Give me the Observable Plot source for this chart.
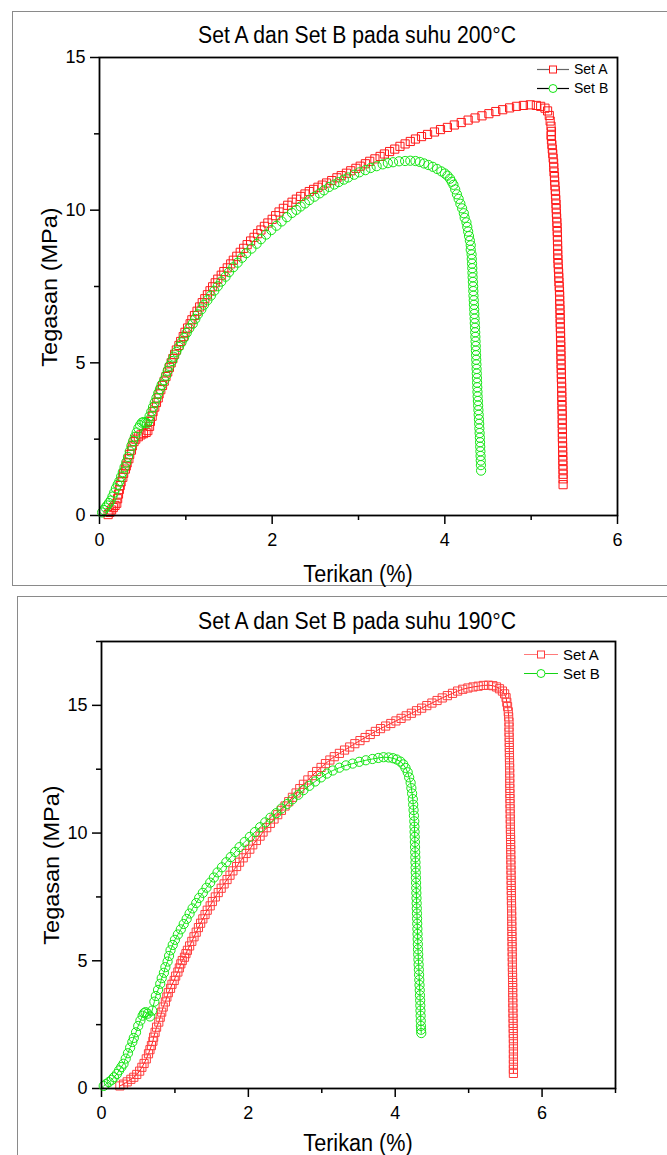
<!DOCTYPE html>
<html>
<head>
<meta charset="utf-8">
<script src="https://cdn.jsdelivr.net/npm/d3@7"></script>
<script src="https://cdn.jsdelivr.net/npm/@observablehq/plot@0.6"></script>
<style>
  html, body { margin: 0; padding: 0; background: #fff; }
  body { width: 667px; height: 1155px; position: relative; overflow: hidden; font-family: "Liberation Sans", Arial, sans-serif; }
  .panel { position: absolute; border: 1px solid #8a8a8a; box-sizing: border-box; pointer-events: none; }
  .chart { position: absolute; left: 0; }
  .txt { position: absolute; line-height: 1; white-space: nowrap; color: #000; }
  .legend { position: absolute; font-size: 14px; }
  .legend .row { display: flex; align-items: center; height: 19px; }
</style>
</head>
<body>
<div class="panel" style="left:12px; top:11px; width:700px; height:575px;"></div>
<div class="panel" style="left:17px; top:596px; width:700px; height:600px;"></div>
<div id="c1" class="chart" style="top:0px;"></div>
<div id="c2" class="chart" style="top:590px;"></div>
<script>
// ---------- DATA ----------
const titles = ["Set A dan Set B pada suhu 200°C", "Set A dan Set B pada suhu 190°C"];
const xLabel = "Terikan (%)";
const yLabel = "Tegasan (MPa)";
const seriesNames = ["Set A", "Set B"];

// 200°C panel
const xDomain200 = [0, 6];
const yDomain200 = [0, 15];
const xTicks200 = [0, 2, 4, 6];
const xMinor200 = [1, 3, 5];
const yTicks200 = [0, 5, 10, 15];
const yMinor200 = [2.5, 7.5, 12.5];

// [strain %, stress MPa]
const set200A = [
[0.10,0.03],[0.12,0.10],[0.14,0.18],[0.16,0.26],[0.18,0.33],[0.20,0.40],[0.21,0.55],[0.22,0.70],[0.23,0.85],[0.24,0.98],
[0.25,1.10],[0.27,1.25],[0.28,1.38],[0.30,1.52],[0.31,1.62],[0.32,1.72],[0.34,1.86],[0.35,2.00],[0.37,2.14],[0.38,2.28],
[0.40,2.42],[0.42,2.50],[0.45,2.58],[0.48,2.64],[0.51,2.68],[0.54,2.72],[0.56,2.78],[0.58,2.92],[0.59,3.08],[0.61,3.25],
[0.62,3.40],[0.64,3.55],[0.66,3.70],[0.68,3.85],[0.69,3.98],[0.71,4.12],[0.73,4.26],[0.75,4.40],[0.77,4.55],[0.79,4.70],
[0.81,4.85],[0.83,5.00],[0.85,5.14],[0.87,5.28],[0.89,5.42],[0.92,5.57],[0.94,5.70],[0.97,5.86],[0.99,6.00],[1.02,6.14],
[1.05,6.28],[1.07,6.41],[1.10,6.55],[1.13,6.69],[1.16,6.83],[1.19,6.97],[1.22,7.10],[1.25,7.23],[1.28,7.36],[1.31,7.49],
[1.34,7.62],[1.37,7.74],[1.41,7.87],[1.44,7.99],[1.48,8.11],[1.52,8.24],[1.55,8.36],[1.59,8.49],[1.63,8.62],[1.67,8.75],
[1.71,8.87],[1.75,8.99],[1.79,9.11],[1.83,9.23],[1.87,9.35],[1.91,9.47],[1.95,9.58],[2.00,9.70],[2.04,9.82],[2.08,9.94],
[2.13,10.06],[2.18,10.16],[2.23,10.26],[2.28,10.36],[2.33,10.45],[2.38,10.53],[2.43,10.61],[2.48,10.68],[2.53,10.75],[2.58,10.82],
[2.63,10.89],[2.69,10.97],[2.75,11.06],[2.80,11.13],[2.86,11.21],[2.91,11.29],[2.97,11.37],[3.02,11.44],[3.08,11.52],[3.13,11.60],
[3.19,11.68],[3.25,11.76],[3.30,11.84],[3.36,11.92],[3.42,12.00],[3.48,12.09],[3.54,12.17],[3.60,12.25],[3.66,12.33],[3.73,12.41],
[3.80,12.48],[3.88,12.56],[3.95,12.64],[4.03,12.71],[4.11,12.79],[4.19,12.87],[4.27,12.95],[4.35,13.02],[4.43,13.09],[4.51,13.16],
[4.59,13.23],[4.67,13.29],[4.75,13.35],[4.83,13.40],[4.91,13.43],[4.99,13.45],[5.06,13.43],[5.11,13.40],[5.16,13.34],[5.19,13.25],
[5.21,13.10],[5.22,12.92],[5.23,12.75],[5.235,12.58],[5.23,12.45],[5.235,12.30],[5.24,12.15],[5.245,12.00],[5.25,11.85],[5.255,11.70],
[5.26,11.55],[5.262,11.40],[5.265,11.25],[5.27,11.10],[5.272,10.95],[5.275,10.80],[5.28,10.65],[5.282,10.50],[5.285,10.35],[5.288,10.20],
[5.29,10.05],[5.292,9.90],[5.295,9.75],[5.298,9.60],[5.30,9.45],[5.302,9.30],[5.304,9.15],[5.305,9.00],[5.306,8.85],[5.307,8.70],
[5.308,8.55],[5.31,8.40],[5.312,8.25],[5.315,8.10],[5.318,7.95],[5.32,7.80],[5.322,7.65],[5.325,7.50],[5.328,7.35],[5.33,7.20],
[5.33,7.05],[5.332,6.90],[5.334,6.75],[5.335,6.60],[5.336,6.45],[5.337,6.30],[5.338,6.15],[5.34,6.00],[5.34,5.85],[5.342,5.70],
[5.343,5.55],[5.344,5.40],[5.345,5.25],[5.346,5.10],[5.347,4.95],[5.348,4.80],[5.35,4.65],[5.35,4.50],[5.352,4.35],[5.353,4.20],
[5.354,4.05],[5.355,3.90],[5.356,3.75],[5.357,3.60],[5.358,3.45],[5.36,3.30],[5.36,3.15],[5.36,3.00],[5.361,2.85],[5.362,2.70],
[5.362,2.55],[5.363,2.40],[5.364,2.25],[5.365,2.10],[5.366,1.95],[5.367,1.80],[5.368,1.65],[5.369,1.50],[5.37,1.35],[5.37,1.20],
[5.37,1.01]
];

const set200B = [
[0.03,0.10],[0.05,0.18],[0.07,0.26],[0.09,0.33],[0.11,0.41],[0.13,0.49],[0.15,0.62],[0.17,0.75],[0.19,0.89],[0.21,1.01],
[0.23,1.12],[0.25,1.27],[0.27,1.42],[0.29,1.58],[0.31,1.74],[0.33,1.92],[0.35,2.10],[0.37,2.28],[0.39,2.44],[0.41,2.58],
[0.43,2.72],[0.45,2.86],[0.47,2.96],[0.49,3.04],[0.51,3.06],[0.53,3.04],[0.55,3.02],[0.57,3.12],[0.58,3.25],[0.60,3.40],
[0.62,3.55],[0.64,3.70],[0.66,3.85],[0.68,4.00],[0.70,4.14],[0.72,4.28],[0.75,4.43],[0.77,4.58],[0.79,4.74],[0.81,4.90],
[0.84,5.06],[0.86,5.20],[0.89,5.36],[0.92,5.52],[0.95,5.67],[0.98,5.82],[1.01,5.98],[1.04,6.13],[1.08,6.28],[1.11,6.44],
[1.14,6.59],[1.18,6.75],[1.21,6.90],[1.25,7.05],[1.29,7.20],[1.33,7.36],[1.37,7.51],[1.41,7.66],[1.46,7.82],[1.50,7.97],
[1.55,8.13],[1.60,8.28],[1.65,8.44],[1.70,8.59],[1.76,8.74],[1.82,8.90],[1.87,9.05],[1.93,9.20],[1.99,9.35],[2.05,9.49],
[2.11,9.63],[2.17,9.77],[2.23,9.91],[2.28,10.01],[2.33,10.12],[2.38,10.22],[2.43,10.33],[2.49,10.44],[2.55,10.55],[2.60,10.65],
[2.66,10.76],[2.72,10.84],[2.77,10.92],[2.83,11.00],[2.88,11.07],[2.95,11.16],[3.01,11.24],[3.08,11.31],[3.14,11.38],[3.21,11.44],
[3.28,11.50],[3.34,11.54],[3.40,11.57],[3.47,11.60],[3.54,11.61],[3.60,11.62],[3.66,11.61],[3.71,11.58],[3.76,11.53],[3.81,11.48],
[3.86,11.42],[3.91,11.35],[3.96,11.27],[4.00,11.20],[4.03,11.13],[4.06,11.03],[4.08,10.93],[4.10,10.83],[4.12,10.68],[4.14,10.52],
[4.16,10.37],[4.18,10.21],[4.20,10.06],[4.22,9.90],[4.23,9.75],[4.25,9.60],[4.26,9.45],[4.27,9.30],[4.28,9.15],[4.29,9.00],
[4.30,8.85],[4.30,8.70],[4.31,8.55],[4.312,8.40],[4.315,8.25],[4.318,8.10],[4.32,7.95],[4.322,7.80],[4.325,7.65],[4.328,7.50],
[4.33,7.35],[4.332,7.20],[4.335,7.05],[4.337,6.90],[4.34,6.75],[4.342,6.60],[4.345,6.45],[4.347,6.30],[4.35,6.15],[4.352,6.00],
[4.354,5.85],[4.356,5.70],[4.358,5.55],[4.36,5.40],[4.362,5.25],[4.364,5.10],[4.366,4.95],[4.368,4.80],[4.37,4.65],[4.372,4.50],
[4.374,4.35],[4.376,4.20],[4.378,4.05],[4.38,3.90],[4.383,3.75],[4.386,3.60],[4.389,3.45],[4.392,3.30],[4.395,3.15],[4.398,3.00],
[4.40,2.85],[4.403,2.70],[4.406,2.55],[4.408,2.40],[4.41,2.25],[4.412,2.10],[4.414,1.95],[4.416,1.80],[4.418,1.65],[4.42,1.47]
];

// 190°C panel
const xDomain190 = [0, 7];
const yDomain190 = [0, 17.5];
const xTicks190 = [0, 2, 4, 6];
const xMinor190 = [1, 3, 5, 7];
const yTicks190 = [0, 5, 10, 15];
const yMinor190 = [2.5, 7.5, 12.5, 17.5];

const set190A = [
[0.25,0.10],[0.30,0.17],[0.35,0.26],[0.40,0.36],[0.44,0.44],[0.48,0.55],[0.52,0.68],[0.55,0.83],[0.58,0.98],[0.61,1.16],
[0.64,1.36],[0.66,1.52],[0.68,1.68],[0.70,1.85],[0.71,2.01],[0.73,2.20],[0.75,2.40],[0.78,2.60],[0.80,2.79],[0.82,2.99],
[0.84,3.19],[0.87,3.39],[0.89,3.58],[0.91,3.75],[0.94,3.92],[0.96,4.08],[0.99,4.23],[1.01,4.40],[1.04,4.56],[1.06,4.72],
[1.08,4.88],[1.10,5.01],[1.13,5.14],[1.15,5.28],[1.17,5.41],[1.20,5.58],[1.23,5.76],[1.26,5.94],[1.29,6.12],[1.32,6.30],
[1.35,6.47],[1.38,6.64],[1.41,6.81],[1.44,6.98],[1.48,7.15],[1.51,7.32],[1.55,7.50],[1.59,7.67],[1.63,7.84],[1.67,8.01],
[1.71,8.18],[1.75,8.35],[1.79,8.52],[1.84,8.69],[1.88,8.86],[1.93,9.03],[1.97,9.20],[2.02,9.37],[2.06,9.54],[2.11,9.71],
[2.16,9.88],[2.20,10.04],[2.25,10.21],[2.30,10.38],[2.35,10.55],[2.40,10.72],[2.45,10.89],[2.50,11.06],[2.55,11.23],[2.60,11.40],
[2.65,11.57],[2.70,11.74],[2.75,11.91],[2.81,12.08],[2.87,12.25],[2.93,12.41],[2.99,12.57],[3.05,12.72],[3.11,12.86],[3.17,12.99],
[3.24,13.12],[3.31,13.25],[3.38,13.37],[3.45,13.50],[3.52,13.62],[3.59,13.74],[3.66,13.86],[3.73,13.98],[3.80,14.09],[3.87,14.19],
[3.94,14.29],[4.01,14.39],[4.08,14.49],[4.15,14.59],[4.22,14.69],[4.29,14.79],[4.36,14.89],[4.43,14.99],[4.50,15.09],[4.57,15.19],
[4.64,15.29],[4.71,15.38],[4.78,15.47],[4.85,15.56],[4.92,15.63],[4.99,15.68],[5.06,15.72],[5.13,15.75],[5.20,15.78],[5.27,15.79],
[5.33,15.77],[5.38,15.72],[5.42,15.65],[5.46,15.56],[5.49,15.45],[5.51,15.30],[5.52,15.12],[5.53,14.95],[5.54,14.75],[5.545,14.55],
[5.55,14.35],[5.55,14.15],[5.55,13.95],[5.552,13.75],[5.553,13.55],[5.554,13.35],[5.555,13.15],[5.556,12.95],[5.557,12.75],[5.558,12.55],
[5.559,12.35],[5.56,12.15],[5.56,11.95],[5.561,11.75],[5.562,11.55],[5.563,11.35],[5.564,11.15],[5.565,10.95],[5.566,10.75],[5.567,10.55],
[5.568,10.35],[5.569,10.15],[5.57,9.95],[5.571,9.75],[5.572,9.55],[5.573,9.35],[5.574,9.15],[5.575,8.95],[5.576,8.75],[5.577,8.55],
[5.578,8.35],[5.579,8.15],[5.58,7.95],[5.581,7.75],[5.582,7.55],[5.583,7.35],[5.584,7.15],[5.585,6.95],[5.586,6.75],[5.587,6.55],
[5.588,6.35],[5.589,6.15],[5.59,5.95],[5.591,5.75],[5.592,5.55],[5.593,5.35],[5.594,5.15],[5.595,4.95],[5.596,4.75],[5.597,4.55],
[5.598,4.35],[5.599,4.15],[5.60,3.95],[5.60,3.75],[5.601,3.55],[5.602,3.35],[5.603,3.15],[5.604,2.95],[5.605,2.75],[5.606,2.55],
[5.607,2.35],[5.608,2.15],[5.609,1.95],[5.61,1.75],[5.61,1.55],[5.61,1.35],[5.61,1.15],[5.61,0.95],[5.61,0.75],[5.61,0.59]
];

const set190B = [
[0.03,0.10],[0.06,0.17],[0.10,0.25],[0.14,0.34],[0.17,0.44],[0.21,0.57],[0.24,0.71],[0.27,0.84],[0.30,0.97],[0.33,1.17],
[0.36,1.38],[0.39,1.60],[0.42,1.82],[0.44,1.98],[0.47,2.20],[0.50,2.45],[0.53,2.66],[0.56,2.85],[0.58,2.95],[0.60,2.99],
[0.63,2.93],[0.66,2.82],[0.69,3.05],[0.72,3.40],[0.74,3.62],[0.77,3.86],[0.80,4.10],[0.82,4.32],[0.85,4.53],[0.87,4.75],
[0.90,4.97],[0.92,5.19],[0.94,5.41],[0.97,5.62],[1.00,5.82],[1.04,6.03],[1.08,6.23],[1.12,6.44],[1.16,6.64],[1.20,6.85],
[1.24,7.05],[1.29,7.26],[1.33,7.46],[1.38,7.66],[1.43,7.86],[1.48,8.06],[1.53,8.26],[1.58,8.46],[1.64,8.66],[1.70,8.86],
[1.76,9.06],[1.82,9.26],[1.88,9.45],[1.95,9.65],[2.02,9.85],[2.09,10.04],[2.16,10.23],[2.23,10.42],[2.30,10.60],[2.38,10.78],
[2.45,10.96],[2.53,11.14],[2.60,11.32],[2.68,11.50],[2.75,11.68],[2.83,11.85],[2.91,12.02],[2.99,12.18],[3.07,12.33],[3.15,12.45],
[3.24,12.56],[3.33,12.65],[3.42,12.72],[3.51,12.79],[3.60,12.85],[3.69,12.90],[3.77,12.94],[3.84,12.97],[3.91,12.96],[3.97,12.93],
[4.02,12.88],[4.07,12.80],[4.11,12.69],[4.14,12.55],[4.17,12.38],[4.19,12.18],[4.21,11.97],[4.22,11.76],[4.23,11.55],[4.24,11.33],
[4.245,11.11],[4.25,10.90],[4.255,10.68],[4.26,10.46],[4.262,10.25],[4.264,10.05],[4.266,9.85],[4.268,9.65],[4.27,9.45],[4.272,9.25],
[4.274,9.05],[4.276,8.85],[4.278,8.65],[4.28,8.45],[4.282,8.25],[4.284,8.05],[4.286,7.85],[4.288,7.65],[4.29,7.45],[4.292,7.25],
[4.294,7.05],[4.296,6.85],[4.298,6.65],[4.30,6.45],[4.302,6.25],[4.304,6.05],[4.306,5.85],[4.308,5.65],[4.31,5.45],[4.313,5.25],
[4.316,5.05],[4.319,4.85],[4.322,4.65],[4.325,4.45],[4.328,4.25],[4.331,4.05],[4.334,3.85],[4.337,3.65],[4.34,3.45],[4.342,3.25],
[4.344,3.05],[4.346,2.85],[4.348,2.65],[4.35,2.45],[4.352,2.30],[4.355,2.17]
];

// ---------- BUILD ----------
const FONT = '"Liberation Sans", Arial, sans-serif';
const rows = (pairs) => pairs.map(([x, y]) => ({x, y}));

function makeChart(cfg) {
  const A = rows(cfg.a);
  const B = rows(cfg.b);
  const marks = [
    Plot.axisX(cfg.xMinor, {tickSize: 5, tickFormat: () => "", strokeWidth: 1.5, label: null}),
    Plot.axisY(cfg.yMinor, {tickSize: 5, tickFormat: () => "", strokeWidth: 1.5, label: null}),
    Plot.axisX(cfg.xTicks, {tickSize: 9, tickPadding: 9, fontSize: 18, strokeWidth: 1.5, label: null}),
    Plot.axisY(cfg.yTicks, {tickSize: 9, tickPadding: 5, fontSize: 18, strokeWidth: 1.5, label: null}),
  ];
  if (cfg.lines) marks.push(Plot.line(A, {x: "x", y: "y", stroke: cfg.lineA, strokeWidth: 1}));
  marks.push(Plot.dot(A, {x: "x", y: "y", symbol: "square", r: 4.6, stroke: cfg.colA, strokeWidth: 1, fill: "none"}));
  if (cfg.lines) marks.push(Plot.line(B, {x: "x", y: "y", stroke: cfg.lineB, strokeWidth: 1}));
  marks.push(Plot.dot(B, {x: "x", y: "y", symbol: "circle", r: 4.6, stroke: cfg.colB, strokeWidth: 1, fill: "none"}));
  marks.push(Plot.frame({stroke: "#000", strokeWidth: 1.8}));
  return Plot.plot({
    width: 667, height: cfg.height,
    marginLeft: cfg.ml, marginRight: cfg.mr, marginTop: cfg.mt, marginBottom: cfg.mb,
    style: {fontFamily: FONT, fontSize: "18px", color: "#000", background: "transparent", overflow: "visible"},
    x: {domain: cfg.xDomain},
    y: {domain: cfg.yDomain},
    marks
  });
}

const chart1 = makeChart({
  height: 590, ml: 99, mr: 50, mt: 57, mb: 75,
  xDomain: xDomain200, yDomain: yDomain200,
  xTicks: xTicks200, xMinor: xMinor200, yTicks: yTicks200, yMinor: yMinor200,
  a: set200A, b: set200B,
  colA: "#ff1a1a", colB: "#14e614", lines: false
});
const chart2 = makeChart({
  height: 565, ml: 101, mr: 52, mt: 51, mb: 67,
  xDomain: xDomain190, yDomain: yDomain190,
  xTicks: xTicks190, xMinor: xMinor190, yTicks: yTicks190, yMinor: yMinor190,
  a: set190A, b: set190B,
  colA: "#ff3d3d", colB: "#14e614", lineA: "#ff2020", lineB: "#14e614", lines: true
});
document.getElementById("c1").appendChild(chart1);
document.getElementById("c2").appendChild(chart2);

// ---------- TEXT (titles, axis labels) ----------
function addText(str, cx, cy, size, rotate) {
  const d = document.createElement("div");
  d.className = "txt";
  d.textContent = str;
  d.style.fontSize = size + "px";
  d.style.left = cx + "px";
  d.style.top = cy + "px";
  d.style.transform = rotate
    ? "translate(-50%,-50%) scaleX(0.92) rotate(-90deg)"
    : "translate(-50%,-50%) scaleX(0.92)";
  document.body.appendChild(d);
}
addText(titles[0], 357, 35, 23, false);
addText(titles[1], 357, 621, 23, false);
addText(xLabel, 358, 575, 23.5, false);
addText(xLabel, 358, 1144, 23.5, false);
addText(yLabel, 50, 287, 23.5, true);
addText(yLabel, 52, 865, 23.5, true);

// ---------- LEGENDS ----------
function addLegend(left, top, fontSize, lineW, lineColA, lineColB, colA, colB) {
  const d = document.createElement("div");
  d.className = "legend";
  d.style.left = left + "px";
  d.style.top = top + "px";
  d.style.fontSize = fontSize + "px";
  const mk = (name, lineCol, col, sym) => {
    const m = lineW / 2;
    const marker = sym === "square"
      ? `<rect x="${m - 3.5}" y="6" width="7" height="7" fill="#fff" stroke="${col}" stroke-width="1"/>`
      : `<circle cx="${m}" cy="9.5" r="4" fill="#fff" stroke="${col}" stroke-width="1"/>`;
    return `<div class="row"><svg width="${lineW}" height="19" style="margin-right:5px"><line x1="0" x2="${lineW}" y1="9.5" y2="9.5" stroke="${lineCol}" stroke-width="1.2"/>${marker}</svg><span>${name}</span></div>`;
  };
  d.innerHTML = mk(seriesNames[0], lineColA, colA, "square") + mk(seriesNames[1], lineColB, colB, "circle");
  document.body.appendChild(d);
}
addLegend(537, 59.5, 14, 32, "#666", "#000", "#ff1a1a", "#14e614");
addLegend(524, 644.5, 15, 34, "#ff7a7a", "#14d414", "#ff3d3d", "#14e614");
</script>
</body>
</html>
